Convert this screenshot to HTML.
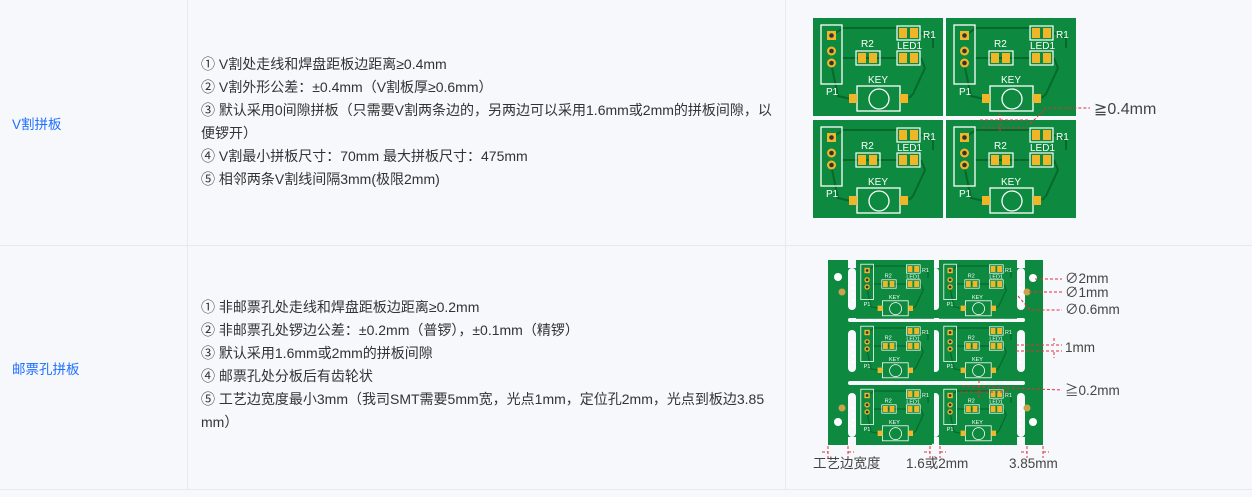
<!DOCTYPE html>
<html><head><meta charset="utf-8"><style>
body{margin:0;width:1252px;height:497px;background:#f7f8fc;font-family:"Liberation Sans","Noto Sans CJK SC",sans-serif;position:relative;overflow:hidden;color:#333}
.vl{position:absolute;top:0;width:1px;height:490px;background:#e6e9ef}
.hl{position:absolute;left:0;width:1252px;height:1px;background:#e6e9ef}
.lab{position:absolute;left:12px;font-size:13.5px;color:#1e6fff}
.txt{position:absolute;left:201px;width:574px;font-size:14px;line-height:23px;color:#333}
svg{position:absolute;left:0;top:0}
</style></head><body>
<div class="vl" style="left:187px"></div>
<div class="vl" style="left:785px"></div>
<div class="hl" style="top:245px"></div>
<div class="hl" style="top:489px"></div>
<div class="lab" style="top:113px">V割拼板</div>
<div class="lab" style="top:358px">邮票孔拼板</div>
<div class="txt" style="top:53px">① V割处走线和焊盘距板边距离≥0.4mm<br>② V割外形公差：±0.4mm（V割板厚≥0.6mm）<br>③ 默认采用0间隙拼板（只需要V割两条边的，另两边可以采用1.6mm或2mm的拼板间隙，以便锣开）<br>④ V割最小拼板尺寸：70mm 最大拼板尺寸：475mm<br>⑤ 相邻两条V割线间隔3mm(极限2mm)</div>
<div class="txt" style="top:296px;width:600px">① 非邮票孔处走线和焊盘距板边距离≥0.2mm<br>② 非邮票孔处锣边公差：±0.2mm（普锣），±0.1mm（精锣）<br>③ 默认采用1.6mm或2mm的拼板间隙<br>④ 邮票孔处分板后有齿轮状<br>⑤ 工艺边宽度最小3mm（我司SMT需要5mm宽，光点1mm，定位孔2mm，光点到板边3.85<br>mm）</div>
<svg width="1252" height="497" viewBox="0 0 1252 497">
<defs>
<g id="bd">
<rect x="0" y="0" width="130" height="98" fill="#0d8a3f"/>
<g fill="none" stroke="#06692c" stroke-width="2">
<path d="M18 18 L30 10 L84 10"/><path d="M29 40 L84 40"/><path d="M108 40 L112 50 L100 76 L96 80"/><path d="M18 45 L25 78 L38 81"/><path d="M108 15 L120 20 L120 30"/>
</g>
<rect x="8" y="7" width="21" height="59" fill="none" stroke="#fff" stroke-width="1.3"/>
<rect x="14" y="13" width="9" height="9" fill="#f0b628"/><circle cx="18.5" cy="17.5" r="2.3" fill="#333"/>
<circle cx="18.5" cy="33" r="4.5" fill="#f0b628"/><circle cx="18.5" cy="33" r="2.3" fill="#333"/>
<circle cx="18.5" cy="45" r="4.5" fill="#f0b628"/><circle cx="18.5" cy="45" r="2.3" fill="#333"/>
<rect x="84" y="8" width="23" height="14" fill="none" stroke="#fff" stroke-width="1.2"/>
<rect x="86" y="10" width="8" height="10" fill="#f0b628"/><rect x="97" y="10" width="8" height="10" fill="#f0b628"/>
<rect x="43" y="33" width="24" height="14" fill="none" stroke="#fff" stroke-width="1.2"/>
<rect x="45" y="35" width="8" height="10" fill="#f0b628"/><rect x="56" y="35" width="8" height="10" fill="#f0b628"/>
<rect x="84" y="33" width="23" height="14" fill="none" stroke="#fff" stroke-width="1.2"/>
<rect x="86" y="35" width="8" height="10" fill="#f0b628"/><rect x="97" y="35" width="8" height="10" fill="#f0b628"/>
<rect x="44" y="68" width="43" height="25" fill="none" stroke="#fff" stroke-width="1.3"/>
<circle cx="66" cy="81" r="10" fill="none" stroke="#fff" stroke-width="1.3"/>
<rect x="36" y="76" width="8" height="9" fill="#f0b628"/><rect x="87" y="76" width="8" height="9" fill="#f0b628"/>
</g>
</defs>
<g font-family="Liberation Sans" font-size="10" fill="#fff">
<g transform="translate(813,18)"><use href="#bd"/><text x="48" y="29">R2</text><text x="110" y="20">R1</text><text x="84" y="31">LED1</text><text x="55" y="65">KEY</text><text x="13" y="77">P1</text></g>
<g transform="translate(946,18)"><use href="#bd"/><text x="48" y="29">R2</text><text x="110" y="20">R1</text><text x="84" y="31">LED1</text><text x="55" y="65">KEY</text><text x="13" y="77">P1</text></g>
<g transform="translate(813,120)"><use href="#bd"/><text x="48" y="29">R2</text><text x="110" y="20">R1</text><text x="84" y="31">LED1</text><text x="55" y="65">KEY</text><text x="13" y="77">P1</text></g>
<g transform="translate(946,120)"><use href="#bd"/><text x="48" y="29">R2</text><text x="110" y="20">R1</text><text x="84" y="31">LED1</text><text x="55" y="65">KEY</text><text x="13" y="77">P1</text></g>
</g>
<g stroke="#e0303a" stroke-width="1" stroke-dasharray="3,2" fill="none">
<path d="M980 120 L1030 120"/><path d="M982 128 L1028 128"/><path d="M1030 124 L1046 108 L1090 108"/><path d="M1000 113 L1000 133"/>
</g>
<text x="1094" y="114" font-family="Liberation Sans,DejaVu Sans,sans-serif" font-size="16" fill="#444">≧0.4mm</text>
<rect x="828" y="260" width="215" height="185" fill="#0d8a3f"/>
<g fill="#f7f8fc">
<rect x="848" y="268" width="8" height="42" rx="4"/><rect x="848" y="330" width="8" height="42" rx="4"/><rect x="848" y="393" width="8" height="44" rx="4"/>
<rect x="932" y="268" width="7" height="42" rx="3.5"/><rect x="932" y="330" width="7" height="42" rx="3.5"/><rect x="932" y="393" width="7" height="44" rx="3.5"/>
<rect x="1017" y="268" width="8" height="42" rx="4"/><rect x="1017" y="330" width="8" height="42" rx="4"/><rect x="1017" y="393" width="8" height="44" rx="4"/>
<rect x="848" y="318" width="177" height="4" rx="2"/><rect x="848" y="381" width="177" height="4" rx="2"/>
<rect x="848" y="260" width="8" height="8"/><rect x="1017" y="260" width="8" height="8"/><rect x="932" y="260" width="7" height="8"/><rect x="932" y="437" width="7" height="8"/><rect x="848" y="437" width="8" height="8"/><rect x="1017" y="437" width="8" height="8"/>
</g>
<g fill="#fff">
<circle cx="838" cy="277" r="4"/><circle cx="1033" cy="278" r="4"/><circle cx="838" cy="422" r="4"/><circle cx="1033" cy="422" r="4"/>
</g>
<g fill="#c9a24a"><circle cx="842" cy="292" r="3.5"/><circle cx="1027" cy="292" r="3.5"/><circle cx="842" cy="408" r="3.5"/><circle cx="1027" cy="408" r="3.5"/></g>
<g font-family="Liberation Sans" font-size="9" fill="#fff">
<g transform="translate(856,260) scale(0.6)"><use href="#bd"/><text x="48" y="29">R2</text><text x="110" y="20">R1</text><text x="84" y="31">LED1</text><text x="55" y="65">KEY</text><text x="13" y="77">P1</text></g>
<g transform="translate(939,260) scale(0.6)"><use href="#bd"/><text x="48" y="29">R2</text><text x="110" y="20">R1</text><text x="84" y="31">LED1</text><text x="55" y="65">KEY</text><text x="13" y="77">P1</text></g>
<g transform="translate(856,322) scale(0.6)"><use href="#bd"/><text x="48" y="29">R2</text><text x="110" y="20">R1</text><text x="84" y="31">LED1</text><text x="55" y="65">KEY</text><text x="13" y="77">P1</text></g>
<g transform="translate(939,322) scale(0.6)"><use href="#bd"/><text x="48" y="29">R2</text><text x="110" y="20">R1</text><text x="84" y="31">LED1</text><text x="55" y="65">KEY</text><text x="13" y="77">P1</text></g>
<g transform="translate(856,385) scale(0.6)"><use href="#bd"/><text x="48" y="29">R2</text><text x="110" y="20">R1</text><text x="84" y="31">LED1</text><text x="55" y="65">KEY</text><text x="13" y="77">P1</text></g>
<g transform="translate(939,385) scale(0.6)"><use href="#bd"/><text x="48" y="29">R2</text><text x="110" y="20">R1</text><text x="84" y="31">LED1</text><text x="55" y="65">KEY</text><text x="13" y="77">P1</text></g>
</g>
<g fill="#fff">
<circle cx="853" cy="282" r="1.4"/><circle cx="853" cy="288" r="1.4"/><circle cx="853" cy="294" r="1.4"/><circle cx="853" cy="300" r="1.4"/>
<circle cx="853" cy="344" r="1.4"/><circle cx="853" cy="350" r="1.4"/><circle cx="853" cy="356" r="1.4"/><circle cx="853" cy="362" r="1.4"/>
<circle cx="853" cy="408" r="1.4"/><circle cx="853" cy="414" r="1.4"/><circle cx="853" cy="420" r="1.4"/><circle cx="853" cy="426" r="1.4"/>
<circle cx="1020" cy="282" r="1.4"/><circle cx="1020" cy="288" r="1.4"/><circle cx="1020" cy="294" r="1.4"/><circle cx="1020" cy="300" r="1.4"/>
<circle cx="1020" cy="344" r="1.4"/><circle cx="1020" cy="350" r="1.4"/><circle cx="1020" cy="356" r="1.4"/><circle cx="1020" cy="362" r="1.4"/>
<circle cx="1020" cy="408" r="1.4"/><circle cx="1020" cy="414" r="1.4"/><circle cx="1020" cy="420" r="1.4"/><circle cx="1020" cy="426" r="1.4"/>
</g>
<g stroke="#e0303a" stroke-width="1" stroke-dasharray="3,2" fill="none">
<path d="M1035 279 L1062 279"/><path d="M1029 292 L1062 292"/><path d="M1018 296 L1030 310 L1062 310"/>
<path d="M1016 345 L1062 345"/><path d="M1016 351 L1062 351"/><path d="M1054 338 L1054 344"/><path d="M1054 352 L1054 358"/>
<path d="M962 386 L1062 390"/><path d="M960 392 L1010 392"/><path d="M979 380 L979 398"/>
<path d="M828 446 L828 458"/><path d="M848 446 L848 458"/><path d="M930 446 L930 458"/><path d="M940 446 L940 458"/><path d="M1027 446 L1027 458"/><path d="M1043 446 L1043 458"/>
<path d="M822 452 L828 452"/><path d="M848 452 L854 452"/><path d="M924 452 L930 452"/><path d="M940 452 L946 452"/><path d="M1021 452 L1027 452"/><path d="M1043 452 L1049 452"/>
</g>
<g font-family="Liberation Sans,Noto Sans CJK SC,sans-serif" font-size="13.5" fill="#444">
<text x="1065" y="283">∅2mm</text><text x="1065" y="297">∅1mm</text><text x="1065" y="314">∅0.6mm</text><text x="1065" y="352">1mm</text><text x="1065" y="395">≧0.2mm</text>
<text x="813" y="468">工艺边宽度</text><text x="906" y="468">1.6或2mm</text><text x="1009" y="468">3.85mm</text>
</g>
</svg>
</body></html>
